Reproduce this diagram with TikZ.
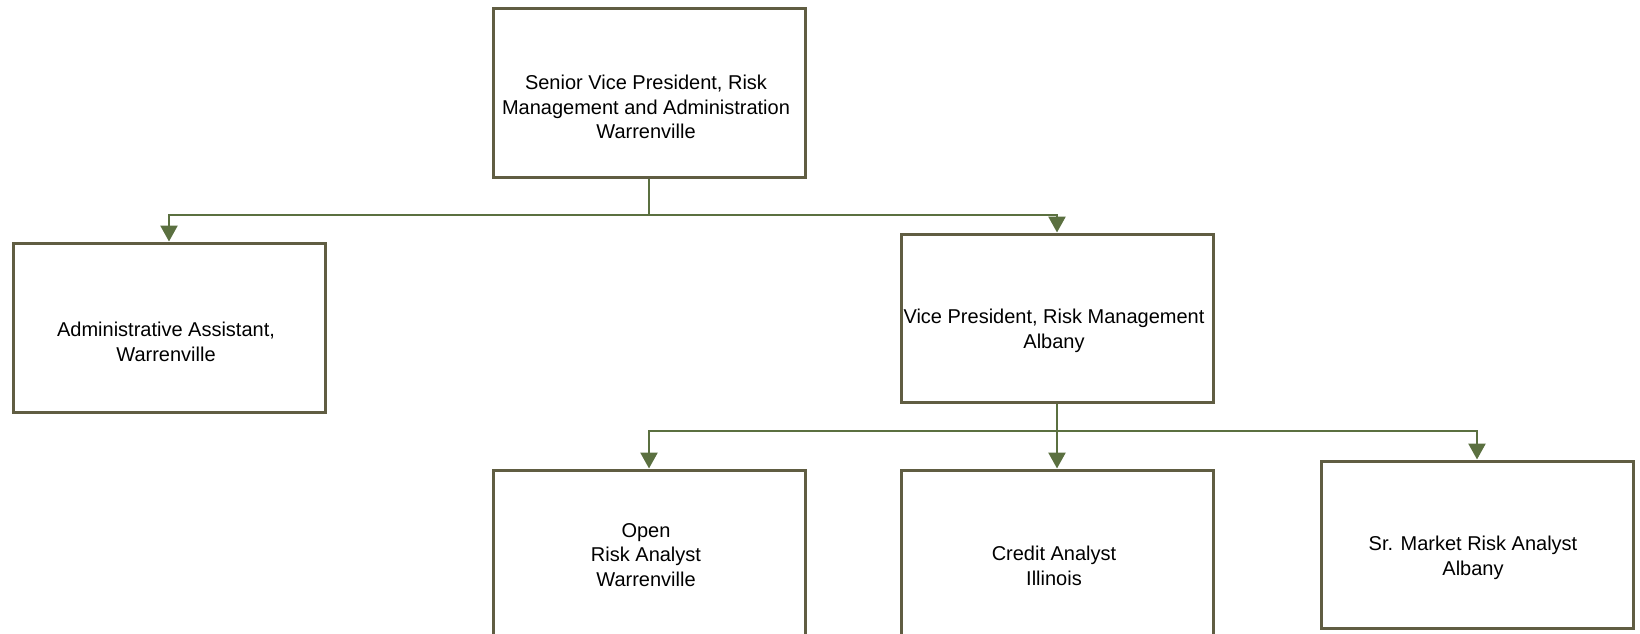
\documentclass[tikz,border=0pt]{standalone}
\usepackage{fontspec}
\setmainfont{Liberation Sans}
\usetikzlibrary{arrows.meta}
\definecolor{boxc}{RGB}{96,93,66}
\definecolor{linec}{RGB}{91,112,64}
\begin{document}
\begin{tikzpicture}[x=1pt,y=-1pt,
  box/.style={draw=boxc,line width=3pt,fill=white,minimum width=312pt,minimum height=168pt,inner sep=0pt},
  txt/.style={align=center,inner sep=0pt,font=\fontsize{20pt}{24.5pt}\selectfont},
  conn/.style={draw=linec,line width=2.6pt},
  arr/.style={conn,-{Triangle[length=16pt,width=17pt]}}]
\useasboundingbox (0,0) rectangle (1640,634);
\node[box] (top) at (649,93) {};
\node[box,minimum height=169pt] (admin) at (169,327.5) {};
\node[box] (vp) at (1057,318) {};
\node[box] (open) at (649,554) {};
\node[box] (credit) at (1057,554) {};
\node[box,minimum height=167pt] (sr) at (1477,544.5) {};
\node[txt] (topt) at (646,107) {Senior Vice President, Risk\\Management and Administration\\Warrenville};
\node[txt] (admint) at (166,342) {Administrative Assistant,\\Warrenville};
\node[txt] (vpt) at (1054,331) {Vice President, Risk Management\\Albany};
\node[txt] (opent) at (646,555) {Open\\Risk Analyst\\Warrenville};
\node[txt] (creditt) at (1054,566) {Credit Analyst\\Illinois};
\node[txt] (srt) at (1473,558) {Sr. Market Risk Analyst\\Albany};
\coordinate (j1) at (649,215);
\coordinate (j2) at (1057,431);
\draw[conn] (top.south) -- (j1);
\draw[arr] (j1) -| (admin.north);
\draw[arr] (j1) -| (vp.north);
\draw[conn] (vp.south) -- (j2);
\draw[arr] (j2) -| (open.north);
\draw[arr] (j2) -- (credit.north);
\draw[arr] (j2) -| (sr.north);
\end{tikzpicture}
\end{document}
